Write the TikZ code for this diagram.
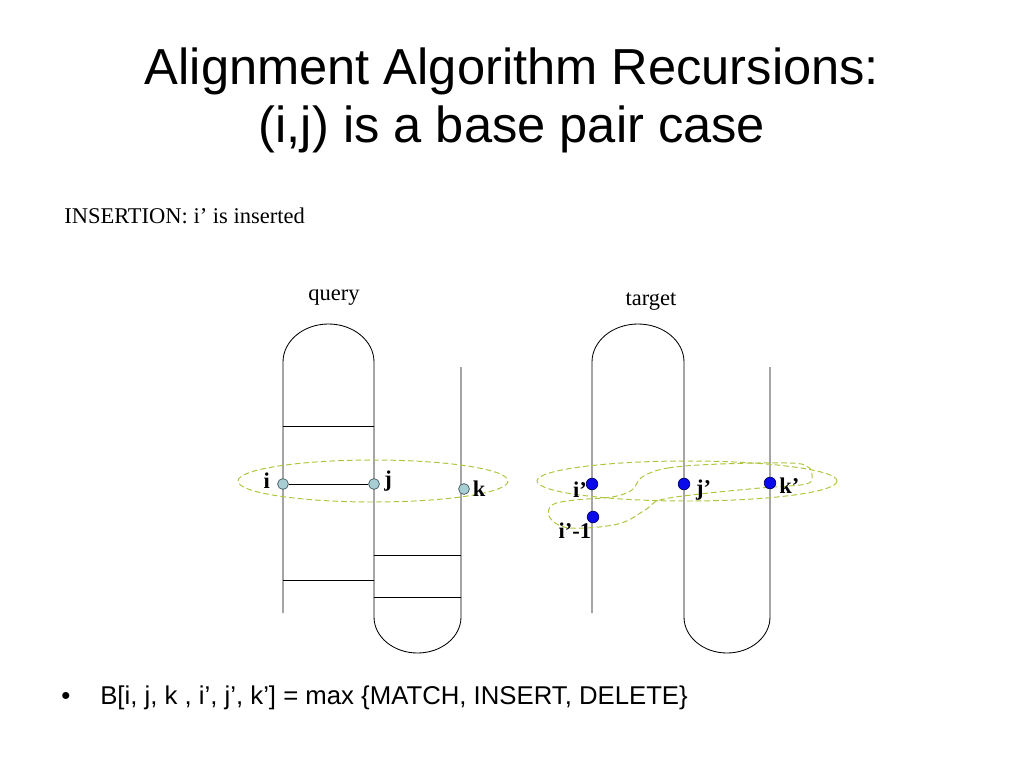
\documentclass[tikz,border=0pt]{standalone}
\usepackage{fontspec}
\setmainfont{Liberation Serif}
\newfontfamily\arialfont{Liberation Sans}
\usepackage{tikz}
\usetikzlibrary{positioning}

\definecolor{loopgreen}{RGB}{178,196,62}
\definecolor{qfill}{RGB}{168,206,212}
\definecolor{qedge}{RGB}{60,88,94}
\definecolor{tfill}{RGB}{10,10,235}
\definecolor{tedge}{RGB}{0,0,110}

\begin{document}
\begin{tikzpicture}[
      x=0.025cm, y=-0.025cm,
      strand/.style={line width=0.6pt},
      region/.style={draw=loopgreen, line width=0.7pt, dash pattern=on 4pt off 2.2pt},
      qdot/.style={circle, draw=qedge, fill=qfill, line width=0.5pt, minimum size=0.27cm, inner sep=0pt},
      tdot/.style={circle, draw=tedge, fill=tfill, line width=0.5pt, minimum size=0.29cm, inner sep=0pt},
      lbl/.style={font=\bfseries\fontsize{16}{18}\selectfont, inner sep=0pt},
      plain/.style={font=\fontsize{16}{18}\selectfont, inner sep=0pt},
      heading/.style={font=\arialfont\fontsize{36}{41}\selectfont, inner sep=0pt, anchor=base},
      bullet/.style={font=\arialfont\fontsize{18.3}{22}\selectfont, inner sep=0pt}
    ]
    \useasboundingbox (0,0) rectangle (1024,768);

    % title
    \node[heading] (ttlA) at (512,85) {Alignment Algorithm Recursions:};
    \node[heading] (ttlB) at (512,143) {(i,j) is a base pair case};
    \node[plain, anchor=base west] (case) at (64,223) {INSERTION: i’ is inserted};

    % query strand
    \node[plain, anchor=base] (query) at (334,300) {query};
    \draw[strand] (283,613) -- (283,362)
      arc[start angle=180, end angle=360, x radius=45.5, y radius=38] -- (374,617)
      arc[start angle=180, end angle=0, x radius=43.5, y radius=36] -- (461,367);
    \foreach \y in {426,580}
      \draw[strand] (283,\y) -- (374,\y);
    \foreach \y in {555,597}
      \draw[strand] (374,\y) -- (461,\y);

    % target strand
    \node[plain, anchor=base] (target) at (651,305) {target};
    \draw[strand] (592,613) -- (592,362)
      arc[start angle=180, end angle=360, x radius=46, y radius=38] -- (684,617)
      arc[start angle=180, end angle=0, x radius=43, y radius=36] -- (770,367);

    % subproblem regions
    \draw[region] (373,481) ellipse [x radius=135, y radius=21];
    \draw[region] (687,481) ellipse [x radius=150, y radius=20];
    \draw[region] plot[smooth cycle, tension=0.6] coordinates {
      (642,477) (668,468) (720,464) (790,463) (808,467) (812,475) (806,484)
      (760,488) (700,494) (660,500) (645,510) (618,524) (570,528) (550,518)
      (552,505) (575,500) (612,497) (632,490)};

    % query positions
    \node[qdot] (i) at (283,484) {};
    \node[qdot] (j) at (374,484) {};
    \node[qdot] (k) at (464,489) {};
    \draw[strand] (i) -- (j);
    \node[lbl, left=5pt of i, yshift=2pt] (li) {i};
    \node[lbl, right=3pt of j, yshift=2pt] (lj) {j};
    \node[lbl, right=2pt of k] (lk) {k};

    % target positions
    \node[lbl] (lip) at (580,490) {i’};
    \node[tdot] (ip) at (592,484) {};
    \node[tdot] (ipm) at (593,517) {};
    \node[tdot] (jp) at (684,484) {};
    \node[tdot] (kp) at (770,483) {};
    \node[lbl, below left=1pt and -2pt of ipm] (lipm) {i’-1};
    \node[lbl, right=4pt of jp, yshift=-4pt] (ljp) {j’};
    \node[lbl, right=2pt of kp, yshift=-2pt] (lkp) {k’};

    % recursion
    \node[bullet, anchor=base] (dot) at (66,704) {•};
    \node[bullet, anchor=base west] (rec) at (100,704)
      {B[i, j, k , i’, j’, k’] = max \{MATCH, INSERT, DELETE\}};
  \end{tikzpicture}
\end{document}
